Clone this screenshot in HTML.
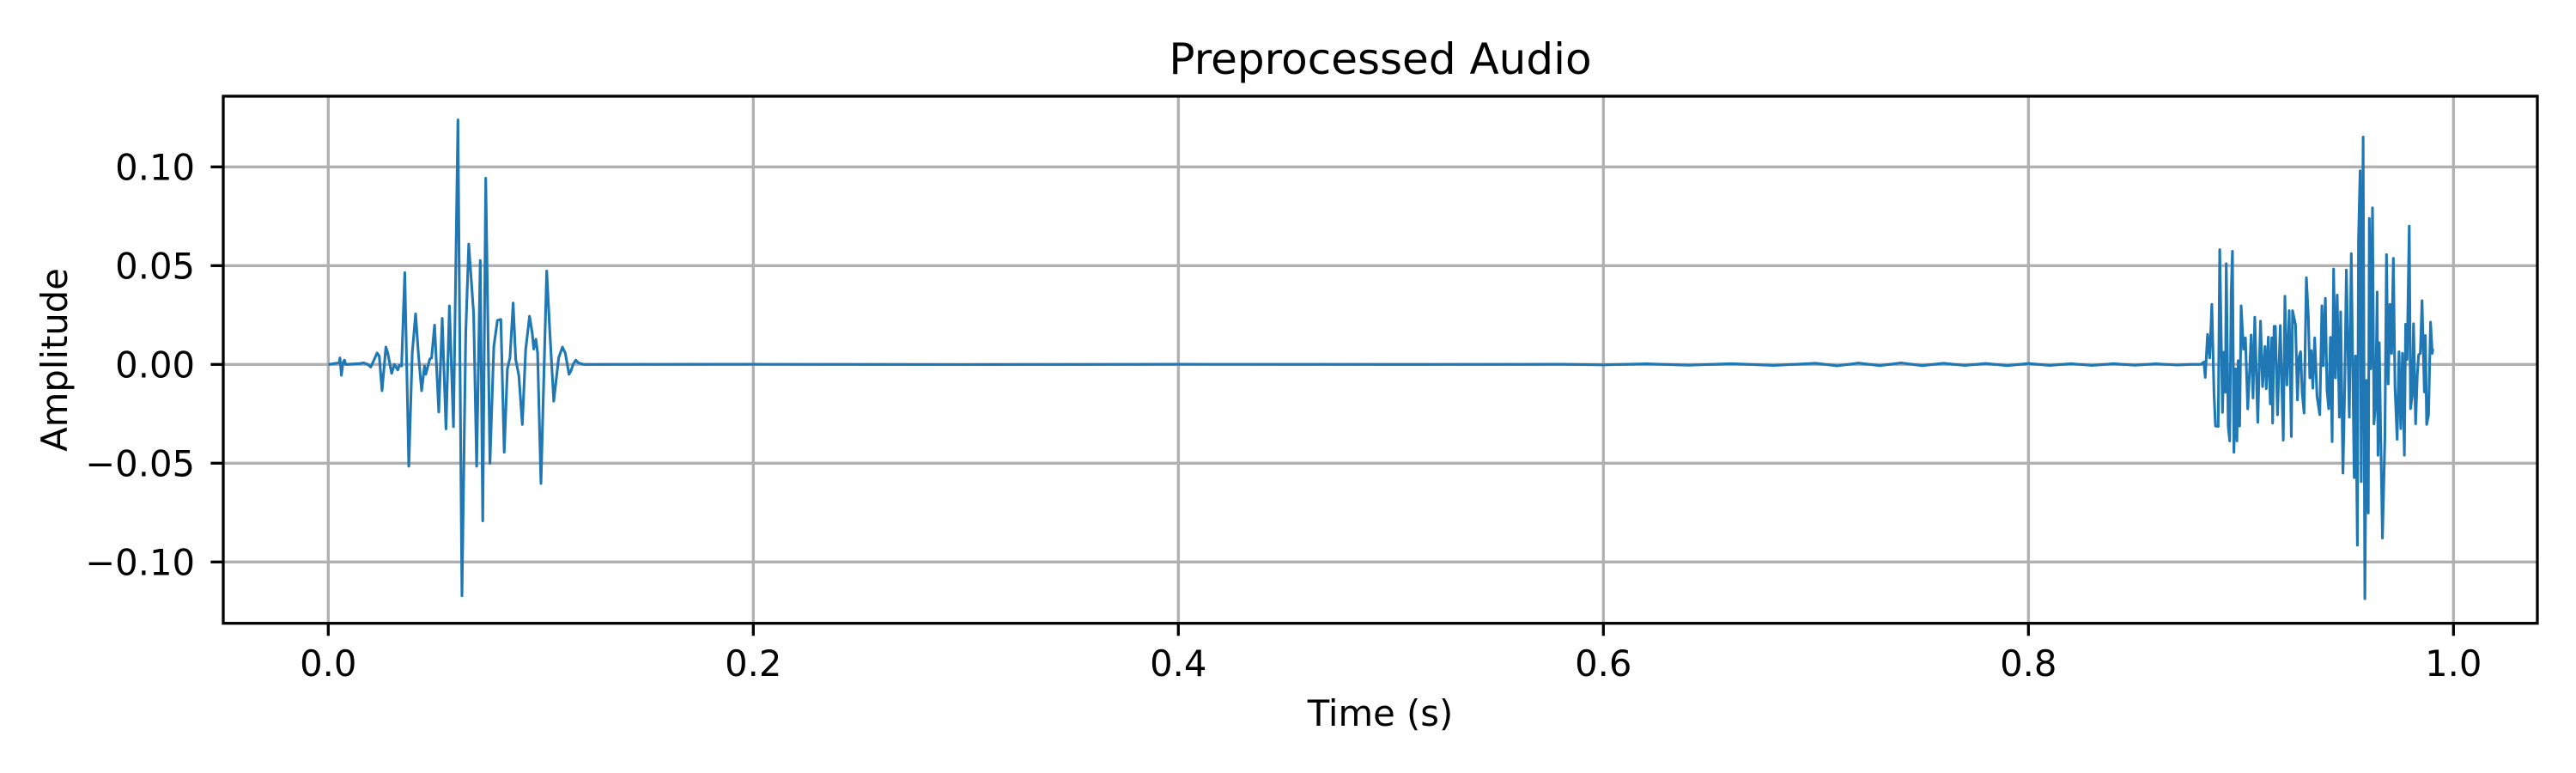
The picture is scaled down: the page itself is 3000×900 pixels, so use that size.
<!DOCTYPE html>
<html><head><meta charset="utf-8"><style>
html,body{margin:0;padding:0;background:#fff;}
svg{display:block;font-family:"DejaVu Sans","Liberation Sans",sans-serif;}
</style></head><body>
<svg id="chart" width="3000" height="900" viewBox="0 0 3000 900" xmlns="http://www.w3.org/2000/svg">
<rect x="0" y="0" width="3000" height="900" fill="#fff"/>
<g id="grid"></g>
<g id="series"></g>
<rect x="260" y="112" width="2695" height="613.7" fill="none" stroke="#000" stroke-width="3.3"/>
<g id="ticks"></g>
<text x="1607.5" y="86" font-size="50" text-anchor="middle">Preprocessed Audio</text>
<text x="1607.5" y="845" font-size="41.7" text-anchor="middle">Time (s)</text>
<text x="0" y="0" font-size="41.7" text-anchor="middle" transform="translate(78,418.9) rotate(-90)">Amplitude</text>
</svg>
<script>
const xTicks = [0.0, 0.2, 0.4, 0.6, 0.8, 1.0];
const xTickLabels = ["0.0", "0.2", "0.4", "0.6", "0.8", "1.0"];
const yTicks = [0.10, 0.05, 0.00, -0.05, -0.10];
const yTickLabels = ["0.10", "0.05", "0.00", "\u22120.05", "\u22120.10"];
const times = [
0.0,0.0051,0.0055,0.0062,0.0069,0.0076,0.0082,0.0152,0.0166,0.0186,0.0200,0.0213,0.0230,0.0240,0.0253,0.0271,0.0280,0.0298,0.0311,0.0318,0.0327,0.0334,0.0345,0.0360,0.0379,0.0395,0.0411,0.0424,0.0439,0.0453,0.0459,0.0469,0.0478,0.0486,0.0500,0.0520,0.0536,0.0554,0.0570,0.0589,0.0610,0.0629,0.0647,0.0661,0.0684,0.0698,0.0715,0.0727,0.0741,0.0761,0.0779,0.0796,0.0812,0.0828,0.0843,0.0855,0.0870,0.0882,0.0897,0.0913,0.0929,0.0947,0.0960,0.0967,0.0977,0.0985,0.1001,0.1028,0.1043,0.1061,0.1084,0.1102,0.1115,0.1133,0.1142,0.1152,0.1165,0.1176,0.1203,
0.20,0.30,0.40,0.50,0.58,0.60,0.62,0.64,0.66,0.68,0.70,0.71,0.72,0.73,0.74,0.75,0.76,0.77,0.78,0.79,0.80,0.81,0.82,0.83,0.84,0.85,0.86,0.87,0.8758,0.8812,
0.8826,0.8832,0.8843,0.8853,0.8863,0.8873,0.8880,0.8893,0.8900,0.8913,0.8920,0.8927,0.8931,0.8940,0.8947,0.8954,0.8960,0.8967,0.8974,0.8981,0.8987,0.8994,0.9001,0.9012,0.9021,0.9032,0.9039,0.9048,0.9057,0.9065,0.9079,0.9092,0.9102,0.9113,0.9119,0.9129,0.9138,0.9145,0.9149,0.9156,0.9162,0.9172,0.9185,0.9199,0.9207,0.9216,0.9227,0.9237,0.9243,0.9257,0.9266,0.9274,0.9281,0.9288,0.9297,0.9308,0.9317,0.9324,0.9331,0.9338,0.9347,0.9358,
0.9371,0.9381,0.9387,0.9397,0.9405,0.9413,0.9421,0.9429,0.9436,0.9445,0.9453,0.9463,0.9469,0.9480,0.9488,0.9496,0.9510,0.9519,0.9533,0.9539,0.9548,0.9553,0.9561,0.9566,0.9575,0.9583,0.9591,0.9599,0.9604,0.9611,0.9619,0.9626,0.9634,0.9641,0.9645,0.9651,0.9658,0.9666,0.9677,0.9685,0.9693,0.9701,0.9709,0.9717,0.9725,0.9735,0.9744,0.9752,0.9760,0.9769,0.9775,0.9782,0.9792,0.9798,0.9806,0.9812,0.9822,0.9830,0.9836,0.9844,0.9852,0.9863,0.9868,0.9874,0.9883,0.9892,0.9900,0.9903
];
const amplitudes = [
0,0.0008,0.0033,-0.0055,0.0008,0.0022,0,0.0005,0.0008,0,-0.0013,0.0017,0.0058,0.0042,-0.0133,0.0088,0.0058,-0.0045,0,-0.0012,-0.0028,-0.0005,-0.0008,0.0465,-0.0515,0.0058,0.0256,0.0058,-0.0133,-0.0008,-0.005,-0.0008,0.0028,0.0032,0.0199,-0.0241,0.0233,-0.0326,0.0296,-0.0315,0.1238,-0.1171,0.0158,0.0609,0.0257,-0.0515,0.0526,-0.0792,0.0942,-0.05,0.0091,0.0223,0.0228,-0.0445,-0.0022,0.0033,0.0311,0.0025,-0.0058,-0.0304,0.0075,0.0244,0.0158,0.0078,0.0128,0.0058,-0.0603,0.0473,0.0158,-0.0186,0.0033,0.0088,0.0058,-0.005,-0.0033,0,0.0022,0.0008,0,
0.0001,-0.0001,0.0001,0,0.0001,-0.0002,0.0003,-0.0004,0.0004,-0.0005,0.0006,-0.0007,0.0007,-0.0006,0.0008,-0.0006,0.0006,-0.0005,0.0005,-0.0006,0.0005,-0.0005,0.0004,-0.0005,0.0004,-0.0004,0.0003,-0.0003,0,0.0001,
0.0012,-0.0065,0.0152,0.0033,0.0304,-0.0141,-0.0312,-0.0314,0.0581,-0.0243,0.0062,-0.0141,0.0510,-0.0314,-0.0387,0.0355,0.0573,-0.0445,-0.0022,-0.0387,0.0019,-0.0312,0.0297,0.0077,0.0135,-0.0225,-0.0068,0.0149,-0.0170,0.0239,-0.0293,0.0219,-0.0112,0.0091,-0.0123,0.0138,-0.0200,0.0135,-0.0297,0.0193,0.0193,-0.0255,0.0197,-0.0384,0.0345,-0.0104,0.0272,-0.0365,0.0272,0.0200,-0.0180,0.0041,0.0065,-0.0141,-0.0246,0.0439,0.0243,-0.0068,0.0070,-0.0120,0.0135,-0.0162,
-0.0255,0.0297,-0.0006,0.0335,-0.0130,-0.0224,0.0137,-0.0391,0.0483,-0.0068,0.0351,-0.0267,0.0266,-0.0550,-0.0130,0.0478,-0.0267,0.0561,-0.0573,0.0043,-0.0915,0.0630,0.0980,-0.0593,0.1151,-0.1186,-0.0081,-0.0752,0.0739,-0.0022,0.0793,-0.0301,-0.0193,0.0366,-0.0460,0.0110,-0.0387,-0.0879,-0.0379,0.0556,-0.0099,0.0304,0.0056,0.0537,-0.0115,-0.0379,0.0064,-0.0325,0.0056,-0.0460,0.0204,0.0025,0.0700,-0.0224,-0.0161,0.0206,-0.0301,-0.0053,0.0048,0.0056,0.0323,-0.0139,0.0146,-0.0304,-0.0255,0.0214,0.0056,0.0079
];
const NS='http://www.w3.org/2000/svg';
const L=260,R=2955,T=112,B=725.7;
function xs(t){return 382.3+t*2475;}
function ys(v){return 424.3-v*2300;}
const grid=document.getElementById('grid'),ticks=document.getElementById('ticks'),series=document.getElementById('series');
xTicks.forEach((t,i)=>{
  const x=xs(t);
  const g=document.createElementNS(NS,'line');
  
  
  g.setAttribute('x1',x);g.setAttribute('x2',x);g.setAttribute('y1',T);g.setAttribute('y2',B);
  g.setAttribute('stroke','#b0b0b0');g.setAttribute('stroke-width','3.3');grid.appendChild(g);
  const tk=document.createElementNS(NS,'line');
  
  
  tk.setAttribute('x1',x);tk.setAttribute('x2',x);tk.setAttribute('y1',B);tk.setAttribute('y2',B+14.6);
  tk.setAttribute('stroke','#000');tk.setAttribute('stroke-width','3.3');ticks.appendChild(tk);
  const tx=document.createElementNS(NS,'text');
  
  
  tx.setAttribute('x',x);tx.setAttribute('y',787);tx.setAttribute('font-size','41.7');tx.setAttribute('text-anchor','middle');
  tx.textContent=xTickLabels[i];ticks.appendChild(tx);
});
yTicks.forEach((v,i)=>{
  const y=ys(v);
  const g=document.createElementNS(NS,'line');
  
  
  g.setAttribute('x1',L);g.setAttribute('x2',R);g.setAttribute('y1',y);g.setAttribute('y2',y);
  g.setAttribute('stroke','#b0b0b0');g.setAttribute('stroke-width','3.3');grid.appendChild(g);
  const tk=document.createElementNS(NS,'line');
  
  
  tk.setAttribute('x1',L-14.6);tk.setAttribute('x2',L);tk.setAttribute('y1',y);tk.setAttribute('y2',y);
  tk.setAttribute('stroke','#000');tk.setAttribute('stroke-width','3.3');ticks.appendChild(tk);
  const tx=document.createElementNS(NS,'text');
  
  
  tx.setAttribute('x',227);tx.setAttribute('y',y+15);tx.setAttribute('font-size','41.7');tx.setAttribute('text-anchor','end');
  tx.textContent=yTickLabels[i];ticks.appendChild(tx);
});
let d='';
times.forEach((t,i)=>{d+=(i?'L':'M')+xs(t).toFixed(1)+' '+ys(amplitudes[i]).toFixed(1);});
const p=document.createElementNS(NS,'path');


p.setAttribute('d',d);p.setAttribute('fill','none');p.setAttribute('stroke','#1f77b4');
p.setAttribute('stroke-width','3.1');p.setAttribute('stroke-linejoin','round');
series.appendChild(p);
</script>
</body></html>
